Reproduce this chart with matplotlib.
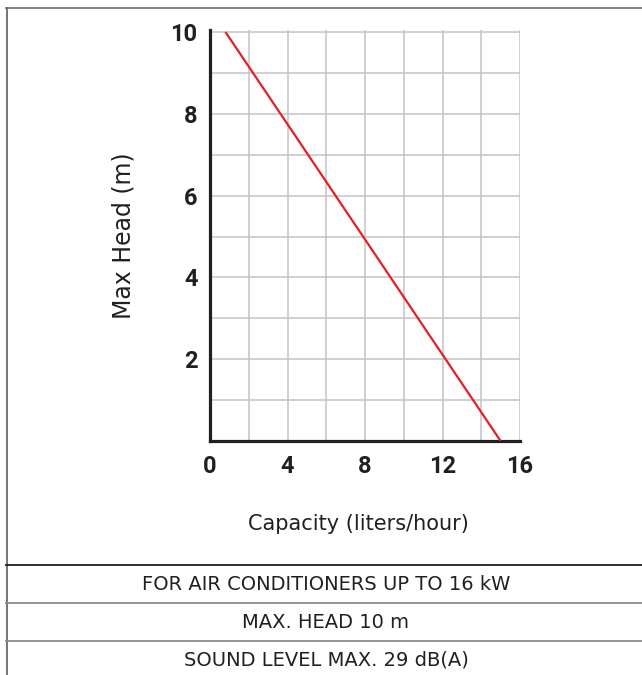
import matplotlib
matplotlib.use('Agg')
import matplotlib.pyplot as plt
from matplotlib.lines import Line2D

# data
capacity = [0.8, 15.0]      # liters/hour
head = [10.0, 0.0]          # m
xticks = [0, 4, 8, 12, 16]
yticks = [2, 4, 6, 8, 10]
specs = ['FOR AIR CONDITIONERS UP TO 16 kW',
         'MAX. HEAD 10 m',
         'SOUND LEVEL MAX. 29 dB(A)']

W, H = 642, 675
FONT = 'DejaVu Sans'
INK = '#231f20'
fig = plt.figure(figsize=(W / 100, H / 100), dpi=100)

def fx(px):
    return px / W

def fy(py):
    return 1 - py / H

ax = fig.add_axes([fx(210), fy(441), fx(520) - fx(210), fy(30) - fy(441)])
ax.plot(capacity, head, color='#e61e28', lw=1.6, solid_capstyle='butt', zorder=3)
ax.set_xlim(0, 16)
ax.set_ylim(0, 10.05)
ax.set_xticks(range(0, 17, 2))
ax.set_yticks(range(0, 11, 1))
ax.grid(True, color='#c4c4c8', lw=1.1)
ax.set_axisbelow(True)
tick_font = {'family': 'Roboto', 'weight': 'bold', 'size': 17, 'color': INK}
ax.set_xticklabels([str(v) if v in xticks else '' for v in range(0, 17, 2)], fontdict=tick_font)
ax.set_yticklabels([str(v) if v in yticks else '' for v in range(0, 11)], fontdict=tick_font)
ax.tick_params(length=0)
ax.tick_params(axis='x', pad=10)
ax.tick_params(axis='y', pad=9)
for s in ['top', 'right']:
    ax.spines[s].set_visible(False)
for s in ['left', 'bottom']:
    ax.spines[s].set_color(INK)
    ax.spines[s].set_linewidth(2.3)

fig.text(fx(358), fy(524), 'Capacity (liters/hour)', ha='center', va='center',
         fontsize=15, family=FONT, color=INK)
fig.text(fx(124), fy(236), 'Max Head (m)', ha='center', va='center', rotation=90,
         fontsize=17, family=FONT, color=INK)

# frame and table rows
fig.add_artist(Line2D([fx(6), 1], [fy(7.5), fy(7.5)], color='#7a7a7a', lw=1.3))
fig.add_artist(Line2D([fx(6.5), fx(6.5)], [fy(7.5), 0], color='#6a6a6a', lw=1.3))
row_y = [565, 603, 641]
row_c = [INK, '#8a8a8a', '#8a8a8a']
for y, c in zip(row_y, row_c):
    fig.add_artist(Line2D([fx(6), 1], [fy(y), fy(y)], color=c, lw=1.3))
for i, t in enumerate(specs):
    fig.text(fx(326), fy(row_y[i] + 19), t, ha='center', va='center',
             fontsize=14, family=FONT, color=INK)

fig.savefig('out.png', dpi=100)
